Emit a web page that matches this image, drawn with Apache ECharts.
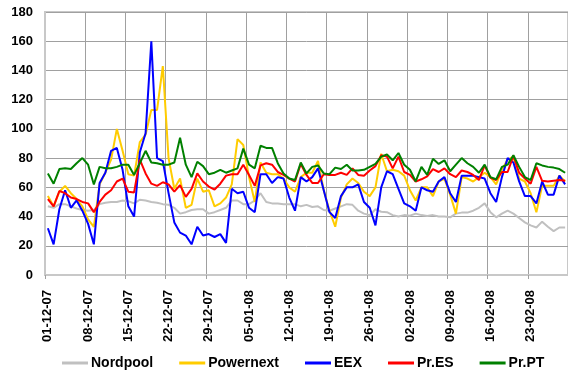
<!DOCTYPE html>
<html>
<head>
<meta charset="utf-8">
<script src="https://cdn.jsdelivr.net/npm/echarts@6/dist/echarts.min.js"></script>
<style>
html,body{margin:0;padding:0;background:#fff;}
#chart{width:568px;height:371px;}
</style>
</head>
<body>
<div id="chart"></div>
<script>
// Daily categories 01-12-07 .. 29-02-08
var startDate = [2007, 11, 1];
var dayCount = 91;
var categories = [];
(function(){
  var d = new Date(Date.UTC(startDate[0], startDate[1], startDate[2]));
  for (var i = 0; i < dayCount; i++) {
    var dd = ('0' + d.getUTCDate()).slice(-2);
    var mm = ('0' + (d.getUTCMonth() + 1)).slice(-2);
    var yy = ('' + d.getUTCFullYear()).slice(-2);
    categories.push(dd + '-' + mm + '-' + yy);
    d.setUTCDate(d.getUTCDate() + 1);
  }
})();

var seriesNames = ['Nordpool', 'Powernext', 'EEX', 'Pr.ES', 'Pr.PT'];

var nordpool = [47,46,48.5,48.5,47,45.5,44.5,44,44.5,48.5,49.5,50,50,51,50.5,49,51.5,51,50,49.5,48.5,48,46,42,43,44.5,45,45,42,43,44.5,46,51,51,48.5,48.5,51,56,50,49,49,48.5,48.5,48.5,47,48,46.5,47,44.5,44,45.5,47,48.5,48,44,42,41,45,43.3,43,41,40,41,40.6,42,41,40.4,41,40,40,39.5,42,42.7,42.7,44,46,49,43,39.5,42,44,42,39,36,34,32.5,36.5,33,30,32.5,32.5];

var powernext = [54,47,57,61,56,52,47,38,33,62,70,79,100,85,69,68,91,96,113,113,143,80,59,66,46,48,66,57,58,47,49,53,62,93,89,67,50,77,70,69,69,66,60,57,67,70,70,78,58,44,33,53,62,66,63,57,54,60,83,71,72,71,68,58,51,60,60,54,64,66,55,42,67,66,64,67,70,67,62,72,79,81,66,64,56,43,61,61,61,68,64];

var eex = [32,21,45,58,46,51,44,35,21,63,70,85,87,72,47,40,84,97,160,80,78,56,36,29,27,21,33,27,28,26,28,22,59,56,57,46,43,69,69,63,67,66,53,44,67,64,67,73,58,43,39,54,60,60,62,50,46,34,60,71,69,59,49,47,44,60,58,57,64,67,56,50,68,68,68,67,66,56,50,67,80,77,64,54,54,49,64,55,55,68,62];

var prES = [52,47,57.5,56,53,52,50,49,43,50,55,58,64,66,57,56.5,79,69.5,62.5,61,63.5,62,57,61.5,53.5,59,69.5,64,60.5,58.5,62.5,68,69,69,75.5,68.5,61,75,76.5,75.5,70.5,68.5,66,64,76,68.5,63,63,69,68.5,68.5,70,68.5,73,68.5,68,71.5,74.5,82,81,73,81,70.5,68.5,64,65.5,67.5,72.5,70.5,73,69,67,71.5,70.5,68.5,65,75,66.5,65,70.5,70.5,81.5,70,66,62.5,74,64.5,64,64.5,65,64.5];

var prPT = [69.5,62.5,72.5,73,72.5,76.5,80,75.5,62,74,73,73,74,75.5,75.5,68.5,76.5,85,77,76.5,75.5,75.5,77,94,75.5,67,77.5,74.5,69,70,72,70,71.5,73,86.5,75.5,73,88.5,87,87,76.5,69.5,66,65,77,69.5,74,75,69.5,69,73.5,72.5,75.5,71.5,71.5,72,74,76,81,82.5,78.5,83.5,75.5,72,64,74,68.5,79.5,76,78.5,71,75.5,80,76.5,74,70,75.5,67,65.5,74,75.5,82,74,67,65,76.5,75,74,73.5,72.5,70];

var seriesColors = ['#c0c0c0', '#ffcc00', '#0000ff', '#ff0000', '#008000'];
var seriesData = [nordpool, powernext, eex, prES, prPT];

var yMin = 0, yMax = 180, yStep = 20;
var labelEvery = 7;

var chart = echarts.init(document.getElementById('chart'), null, {renderer: 'canvas'});
var font = "'Liberation Sans', Arial, sans-serif";

chart.setOption({
  animation: false,
  backgroundColor: '#ffffff',
  grid: {
    left: 45, top: 12, width: 525, height: 263,
    show: true, borderColor: '#c8c8c8', borderWidth: 2, backgroundColor: 'transparent'
  },
  legend: {
    left: 62, top: 356, padding: 0,
    icon: 'rect',
    itemWidth: 26, itemHeight: 3, itemGap: 26,
    textStyle: {fontFamily: font, fontWeight: 'bold', fontSize: 14, color: '#000', padding: [0,0,0,-2]},
    data: seriesNames
  },
  xAxis: {
    type: 'category',
    data: categories,
    boundaryGap: true,
    axisLine: {lineStyle: {color: '#c8c8c8', width: 2}},
    axisTick: {show: true, interval: labelEvery - 1, length: 4, lineStyle: {color: '#a0a0a0'}},
    axisLabel: {
      interval: labelEvery - 1, rotate: 90, margin: 15,
      fontFamily: font, fontWeight: 'bold', fontSize: 13, color: '#000'
    },
    splitLine: {show: true, interval: labelEvery - 1, lineStyle: {color: '#a0a0a0', width: 1}}
  },
  yAxis: {
    type: 'value', min: yMin, max: yMax, interval: yStep,
    axisLine: {show: true, lineStyle: {color: '#c8c8c8', width: 2}},
    axisTick: {show: false},
    axisLabel: {margin: 12, fontFamily: font, fontWeight: 'bold', fontSize: 13, color: '#000'},
    splitLine: {show: true, lineStyle: {color: '#a0a0a0', width: 1}}
  },
  series: seriesNames.map(function(name, k){
    return {
      name: name, type: 'line', data: seriesData[k],
      symbol: 'none', showSymbol: false,
      lineStyle: {color: seriesColors[k], width: 2},
      itemStyle: {color: seriesColors[k]}
    };
  })
});
</script>
</body>
</html>
